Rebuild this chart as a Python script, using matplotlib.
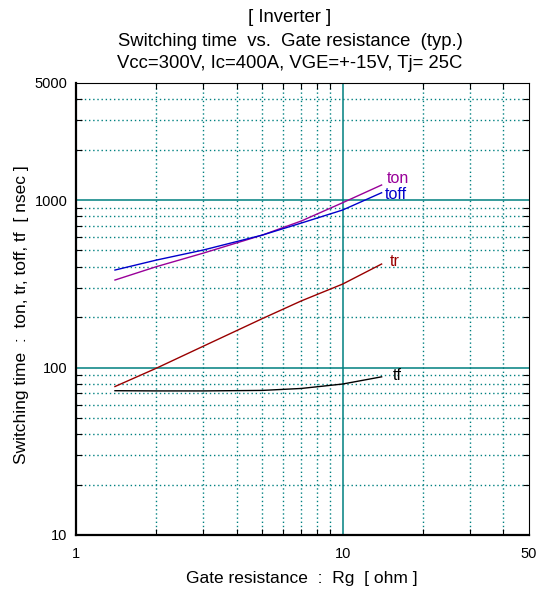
import matplotlib.pyplot as plt
import matplotlib.ticker as mticker
import numpy as np

plt.rcParams['font.family'] = ['Liberation Sans', 'DejaVu Sans']

rg = [1.4, 2, 3, 5, 7, 10, 14]
ton = [333, 400, 482, 618, 750, 964, 1230]
toff = [382, 438, 503, 618, 729, 872, 1106]
tr = [77, 99, 134, 196, 250, 315, 415]
tf = [72.7, 72.5, 72.5, 73, 75, 79.7, 88]

series = [("ton", ton, "#990099"), ("toff", toff, "#0000cc"),
          ("tr", tr, "#990000"), ("tf", tf, "#000000")]
label_offsets = {"ton": (4, 5), "toff": (2, -1), "tr": (6, 2), "tf": (8, 1)}

teal = "#008080"

fig = plt.figure(figsize=(5.36, 5.93), dpi=100)
ax = fig.add_axes([76 / 536, 58 / 593, 453 / 536, 452 / 593])

ax.set_xscale("log")
ax.set_yscale("log")
ax.set_xlim(1, 50)
ax.set_ylim(10, 5000)

# grid: dotted minor, solid teal at decades
for x in [2, 3, 4, 5, 6, 7, 8, 9, 20, 30, 40]:
    ax.axvline(x, color=teal, lw=1.0, ls=(0, (1, 2)), zorder=1)
ax.axvline(10, color=teal, lw=1.1, zorder=1)
for y in [20, 30, 40, 50, 60, 70, 80, 90, 200, 300, 400, 500, 600, 700, 800, 900,
          2000, 3000, 4000]:
    ax.axhline(y, color=teal, lw=1.0, ls=(0, (1, 2)), zorder=1)
for y in [100, 1000]:
    ax.axhline(y, color=teal, lw=1.1, zorder=1)

for name, vals, col in series:
    ax.plot(rg, vals, color=col, lw=1.0, zorder=3)
    dx, dy = label_offsets[name]
    ax.annotate(name, (rg[-1], vals[-1]), xytext=(dx, dy), textcoords="offset points",
                color=col, fontsize=11.5, va="center", ha="left")

ax.xaxis.set_major_locator(mticker.FixedLocator([1, 10, 50]))
ax.xaxis.set_major_formatter(mticker.FixedFormatter(["1", "10", "50"]))
ax.xaxis.set_minor_locator(mticker.FixedLocator([2, 3, 4, 5, 6, 7, 8, 9, 20, 30, 40]))
ax.xaxis.set_minor_formatter(mticker.NullFormatter())
ax.yaxis.set_major_locator(mticker.FixedLocator([10, 100, 1000, 5000]))
ax.yaxis.set_major_formatter(mticker.FixedFormatter(["10", "100", "1000", "5000"]))
ax.yaxis.set_minor_locator(mticker.LogLocator(base=10, subs=np.arange(2, 10), numticks=20))
ax.yaxis.set_minor_formatter(mticker.NullFormatter())

ax.tick_params(which="both", direction="in", top=True, right=True, labelsize=10.5)
ax.tick_params(axis="x", pad=9)
ax.tick_params(axis="y", pad=6)
ax.tick_params(which="major", length=0)
ax.tick_params(which="minor", length=4, width=0.8)

for s in ["left", "bottom"]:
    ax.spines[s].set_linewidth(1.6)
for s in ["top", "right"]:
    ax.spines[s].set_linewidth(0.8)

# axis titles placed in figure pixels
fig.text(302 / 536, 1 - 578 / 593, "Gate resistance  :  Rg  [ ohm ]",
         fontsize=12.5, ha="center", va="center")
fig.text(22 / 536, 1 - 315 / 593, "Switching time  :  ton, tr, toff, tf  [ nsec ]",
         fontsize=12.5, ha="center", va="center", rotation=90)

fig.text(290 / 536, 1 - 18 / 593, "[ Inverter ]", fontsize=13.3, ha="center", va="center")
fig.text(290 / 536, 1 - 42 / 593, "Switching time  vs.  Gate resistance  (typ.)",
         fontsize=13.3, ha="center", va="center")
fig.text(290 / 536, 1 - 64 / 593, "Vcc=300V, Ic=400A, VGE=+-15V, Tj= 25C",
         fontsize=13.3, ha="center", va="center")

fig.savefig("out.png", dpi=100)
